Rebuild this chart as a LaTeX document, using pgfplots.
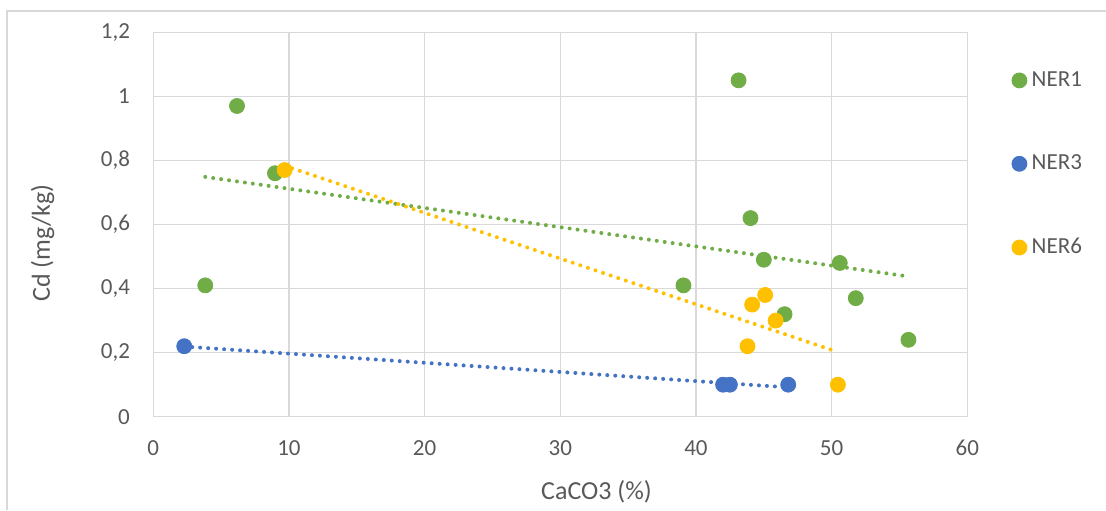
\documentclass[border=0pt]{standalone}
\usepackage{fontspec}
\setmainfont{Carlito}
\usepackage{pgfplots}
\usepackage{pgfplotstable}
\pgfplotsset{compat=1.18}
\definecolor{cgreen}{HTML}{70AD47}
\definecolor{cblue}{HTML}{4472C4}
\definecolor{cyellow}{HTML}{FFC000}
\definecolor{cgrid}{HTML}{D9D9D9}
\definecolor{ctext}{HTML}{595959}

\pgfplotstableread{
x y
3.83 0.41
6.17 0.97
8.97 0.76
39.08 0.41
43.14 1.05
44.02 0.62
45.00 0.49
46.53 0.32
50.60 0.48
51.78 0.37
55.66 0.24
}\nerone
\pgfplotstableread{
x y
2.28 0.22
42.0 0.10
42.5 0.10
46.8 0.10
}\nerthree
\pgfplotstableread{
x y
9.68 0.77
43.80 0.22
44.14 0.35
45.10 0.38
45.87 0.30
50.46 0.10
}\nersix

\begin{document}
\begin{tikzpicture}
\path[use as bounding box] (0,0) rectangle (553pt,255pt);
\draw[cgrid, line width=0.7pt] (3.5pt,0) |- (553pt,249.5pt);
\begin{axis}[
  at={(76.65pt,46.65pt)}, anchor=south west,
  scale only axis, width=407pt, height=192.2pt,
  xmin=0, xmax=60, ymin=0, ymax=1.2,
  xtick={0,10,...,60}, ytick={0,0.2,...,1.2},
  grid=major, major grid style={cgrid, line width=0.7pt},
  axis line style={cgrid, line width=0.7pt},
  tick style={draw=none},
  /pgf/number format/assume math mode=true,
  /pgf/number format/use comma,
  ticklabel style={font=\fontsize{11.5}{13}\selectfont, text=ctext},
  yticklabel style={anchor=east, inner sep=0pt, xshift=-11.5pt},
  xticklabel style={anchor=center, inner sep=0pt, yshift=-15.7pt},
  xlabel={CaCO3 (\%)}, ylabel={Cd (mg/kg)},
  label style={font=\fontsize{13}{15}\selectfont, text=ctext},
  xlabel style={at={(axis description cs:0.5445,-0.195)}, anchor=center},
  ylabel style={at={(axis description cs:-0.1359,0.452)}, anchor=center, rotate=0},
  legend style={draw=none, fill=none, at={(axis description cs:1.0543,0.657)}, anchor=west,
    font=\fontsize{11.5}{13}\selectfont, text=ctext, row sep=30.75pt, inner sep=0pt,
    nodes={inner xsep=2.4pt, inner ysep=1pt},
    /tikz/every even column/.append style={column sep=0pt}},
  legend cell align=left,
  legend image code/.code={\draw[#1] plot coordinates {(3.75pt,0pt)};},
]
% trendlines
\addplot[forget plot, cgreen, line width=2pt, line cap=round, dash pattern=on 0pt off 4pt]
  table[y={create col/linear regression={y=y}}] {\nerone};
\addplot[forget plot, cblue, line width=2pt, line cap=round, dash pattern=on 0pt off 4pt]
  table[y={create col/linear regression={y=y}}] {\nerthree};
\addplot[forget plot, cyellow, line width=2pt, line cap=round, dash pattern=on 0pt off 4pt]
  table[y={create col/linear regression={y=y}}] {\nersix};
% points
\addplot[only marks, mark=*, mark size=3.75pt, draw=none, fill=cgreen, mark options={draw=cgreen, fill=cgreen}] table {\nerone};
\addlegendentry{NER1}
\addplot[only marks, mark=*, mark size=3.75pt, draw=none, fill=cblue, mark options={draw=cblue, fill=cblue}] table {\nerthree};
\addlegendentry{NER3}
\addplot[only marks, mark=*, mark size=3.75pt, draw=none, fill=cyellow, mark options={draw=cyellow, fill=cyellow}] table {\nersix};
\addlegendentry{NER6}
\end{axis}
\end{tikzpicture}
\end{document}
